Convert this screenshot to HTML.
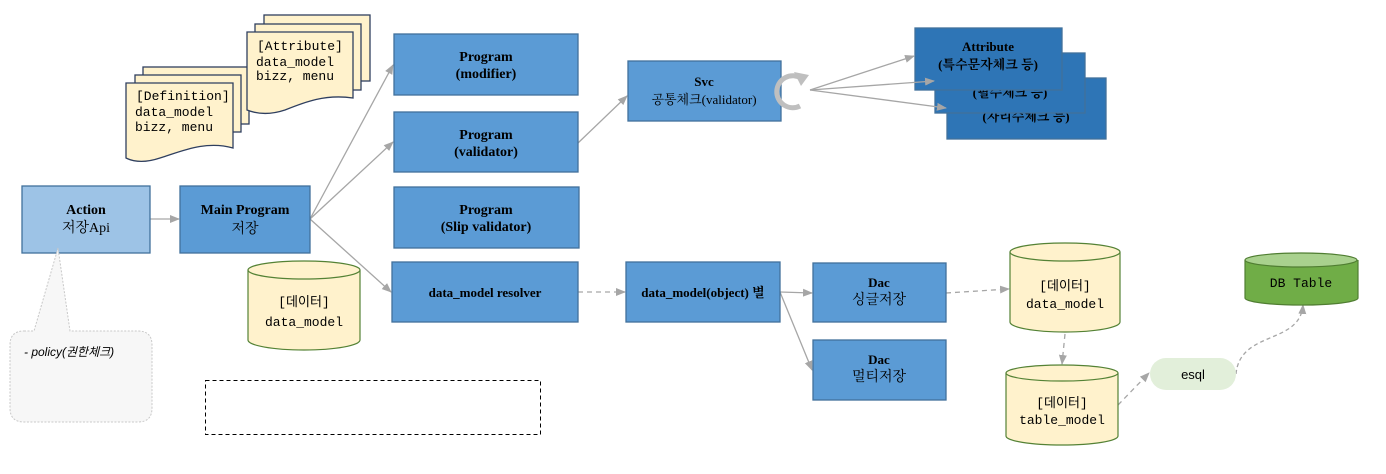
<!DOCTYPE html>
<html><head><meta charset="utf-8"><style>
html,body{margin:0;padding:0;background:#fff;}
svg{display:block;}
.b{font-family:"Liberation Serif","Noto Serif CJK KR",serif;font-weight:bold;font-size:14px;fill:#000;}
.k{font-family:"Liberation Serif","Noto Serif CJK KR",serif;font-size:14px;fill:#000;}
.m{font-family:"Liberation Mono","Noto Sans CJK KR",monospace;font-size:13px;fill:#000;}
</style></head><body>
<svg width="1386" height="474" viewBox="0 0 1386 474" xmlns="http://www.w3.org/2000/svg">
<defs>
<marker id="a" markerWidth="10" markerHeight="10" refX="9" refY="5" orient="auto" markerUnits="userSpaceOnUse"><path d="M0,1 L10,5 L0,9 z" fill="#a6a6a6"/></marker>
</defs>
<g stroke="#2f3f5f" stroke-width="1.3" fill="#fff2cc">
<rect x="143" y="67" width="106" height="57"/>
<rect x="135" y="75" width="106" height="57"/>
<path d="M126,83 H233 V148 C205,140 180,152 160,158 C145,163 134,162 126,158 Z"/>
<rect x="264" y="15" width="106" height="66"/>
<rect x="255" y="24" width="106" height="66"/>
<path d="M247,32 H353 V98 C325,94 305,102 285,110 C270,115 257,114 247,110 Z"/>
</g>
<text class="m" x="136" y="100">[Definition]</text>
<text class="m" x="135" y="116">data_model</text>
<text class="m" x="135" y="131">bizz, menu</text>
<text class="m" x="257" y="50">[Attribute]</text>
<text class="m" x="256" y="66">data_model</text>
<text class="m" x="256" y="80">bizz, menu</text>

<g stroke="#a6a6a6" stroke-width="1.3" fill="none">
<line x1="150" y1="219" x2="179" y2="219" marker-end="url(#a)"/>
<line x1="310" y1="219" x2="393" y2="65" marker-end="url(#a)"/>
<line x1="310" y1="219" x2="393" y2="142" marker-end="url(#a)"/>
<line x1="310" y1="219" x2="391" y2="292" marker-end="url(#a)"/>
<line x1="578" y1="143" x2="627" y2="96" marker-end="url(#a)"/>
<line x1="578" y1="292" x2="625" y2="292" stroke-dasharray="5,4" marker-end="url(#a)"/>
<line x1="780" y1="292" x2="812" y2="293" marker-end="url(#a)"/>
<line x1="780" y1="292" x2="812" y2="370" marker-end="url(#a)"/>
<line x1="946" y1="293" x2="1009" y2="289" stroke-dasharray="5,4" marker-end="url(#a)"/>
<line x1="1065" y1="334" x2="1062" y2="364" stroke-dasharray="5,4" marker-end="url(#a)"/>
<line x1="1118" y1="405" x2="1149" y2="373" stroke-dasharray="5,4" marker-end="url(#a)"/>
<path d="M1236,374 C1240,330 1300,345 1303,305" stroke-dasharray="4,3" marker-end="url(#a)"/>
</g>

<g stroke="#41719c" stroke-width="1.3">
<rect x="22" y="186" width="128" height="67" fill="#9dc3e6"/>
<rect x="180" y="186" width="130" height="67" fill="#5b9bd5"/>
<rect x="394" y="34" width="184" height="61" fill="#5b9bd5"/>
<rect x="394" y="112" width="184" height="60" fill="#5b9bd5"/>
<rect x="394" y="187" width="185" height="61" fill="#5b9bd5"/>
<rect x="392" y="262" width="186" height="60" fill="#5b9bd5"/>
<rect x="626" y="262" width="154" height="60" fill="#5b9bd5"/>
<rect x="813" y="263" width="133" height="59" fill="#5b9bd5"/>
<rect x="813" y="340" width="133" height="60" fill="#5b9bd5"/>
<rect x="628" y="61" width="153" height="60" fill="#5b9bd5"/>
</g>
<text text-anchor="middle" class="b" x="86" y="214">Action</text>
<text text-anchor="middle" class="k" x="86" y="232">저장Api</text>
<text text-anchor="middle" class="b" x="245" y="214">Main Program</text>
<text text-anchor="middle" class="k" x="245" y="233">저장</text>
<text text-anchor="middle" class="b" x="486" y="61">Program</text>
<text text-anchor="middle" class="b" x="486" y="78">(modifier)</text>
<text text-anchor="middle" class="b" x="486" y="139">Program</text>
<text text-anchor="middle" class="b" x="486" y="156">(validator)</text>
<text text-anchor="middle" class="b" x="486" y="214">Program</text>
<text text-anchor="middle" class="b" x="486" y="231">(Slip validator)</text>
<text text-anchor="middle" class="b" x="485" y="297" style="font-size:13px">data_model resolver</text>
<text text-anchor="middle" class="b" x="703" y="297" style="font-size:13px">data_model(object) 별</text>
<text text-anchor="middle" class="b" x="879" y="287" style="font-size:13px">Dac</text>
<text text-anchor="middle" class="k" x="879" y="304">싱글저장</text>
<text text-anchor="middle" class="b" x="879" y="364" style="font-size:13px">Dac</text>
<text text-anchor="middle" class="k" x="879" y="381">멀티저장</text>
<text text-anchor="middle" class="b" x="704" y="86" style="font-size:13px">Svc</text>
<text text-anchor="middle" class="k" x="704" y="104" style="font-size:13px">공통체크(validator)</text>

<rect x="947" y="78" width="159" height="61" fill="#2e75b6" stroke="#41719c" stroke-width="1.3"/>
<text text-anchor="middle" class="b" x="1026" y="121" style="font-size:13px">(자리수체크 등)</text>
<rect x="935" y="53" width="150" height="60" fill="#2e75b6" stroke="#41719c" stroke-width="1.3"/>
<text text-anchor="middle" class="b" x="1010" y="97" style="font-size:13px">(필수체크 등)</text>
<rect x="915" y="28" width="147" height="62" fill="#2e75b6" stroke="#41719c" stroke-width="1.3"/>
<text text-anchor="middle" class="b" x="988" y="51" style="font-size:13px">Attribute</text>
<text text-anchor="middle" class="b" x="988" y="69" style="font-size:13px">(특수문자체크 등)</text>

<g stroke="#a6a6a6" stroke-width="1.3" fill="none">
<line x1="810" y1="90" x2="914" y2="56" marker-end="url(#a)"/>
<line x1="810" y1="90" x2="934" y2="81" marker-end="url(#a)"/>
<line x1="810" y1="90" x2="946" y2="108" marker-end="url(#a)"/>
</g>

<path d="M801,78 A16,16 0 1 0 800,106" stroke="#bfbfbf" stroke-width="5" fill="none"/>
<path d="M794,72 L809,75 L801,86 z" fill="#bfbfbf"/>

<g stroke="#548235" stroke-width="1.2" fill="#fff2cc">
<path d="M248,270 V340 A56,10 0 0 0 360,340 V270"/><ellipse cx="304" cy="270" rx="56" ry="9"/>
<path d="M1010,252 V322 A55,10 0 0 0 1120,322 V252"/><ellipse cx="1065" cy="252" rx="55" ry="9"/>
<path d="M1006,373 V436 A56,9 0 0 0 1118,436 V373"/><ellipse cx="1062" cy="373" rx="56" ry="8"/>
<path d="M1245,260 V298 A56,7 0 0 0 1358,298 V260" fill="#70ad47" stroke="#507e32"/><ellipse cx="1301" cy="260" rx="56" ry="7" fill="#a9d18e" stroke="#507e32"/>
</g>
<text text-anchor="middle" class="m" x="304" y="306">[데이터]</text>
<text text-anchor="middle" class="m" x="304" y="326">data_model</text>
<text text-anchor="middle" class="m" x="1065" y="290">[데이터]</text>
<text text-anchor="middle" class="m" x="1065" y="308">data_model</text>
<text text-anchor="middle" class="m" x="1062" y="407">[데이터]</text>
<text text-anchor="middle" class="m" x="1062" y="424">table_model</text>
<text text-anchor="middle" class="m" x="1301" y="287">DB Table</text>

<rect x="1150" y="358" width="86" height="32" rx="16" fill="#e2efda"/>
<text text-anchor="middle" x="1193" y="379" style="font-family:'Liberation Sans',sans-serif;font-size:13px">esql</text>

<path d="M24,331 H34 L58,248 L70,331 H138 Q152,331 152,345 V408 Q152,422 138,422 H24 Q10,422 10,408 V345 Q10,331 24,331 Z" fill="#f7f7f7" stroke="#c8c8c8" stroke-dasharray="2,1.5"/>
<text x="24" y="356" style="font-family:'Liberation Sans','Noto Sans CJK KR',sans-serif;font-size:12px;font-style:italic">- policy(권한체크)</text>

<rect x="205.5" y="380.5" width="335" height="54" fill="none" stroke="#000" stroke-dasharray="4,3"/>
</svg>
</body></html>
